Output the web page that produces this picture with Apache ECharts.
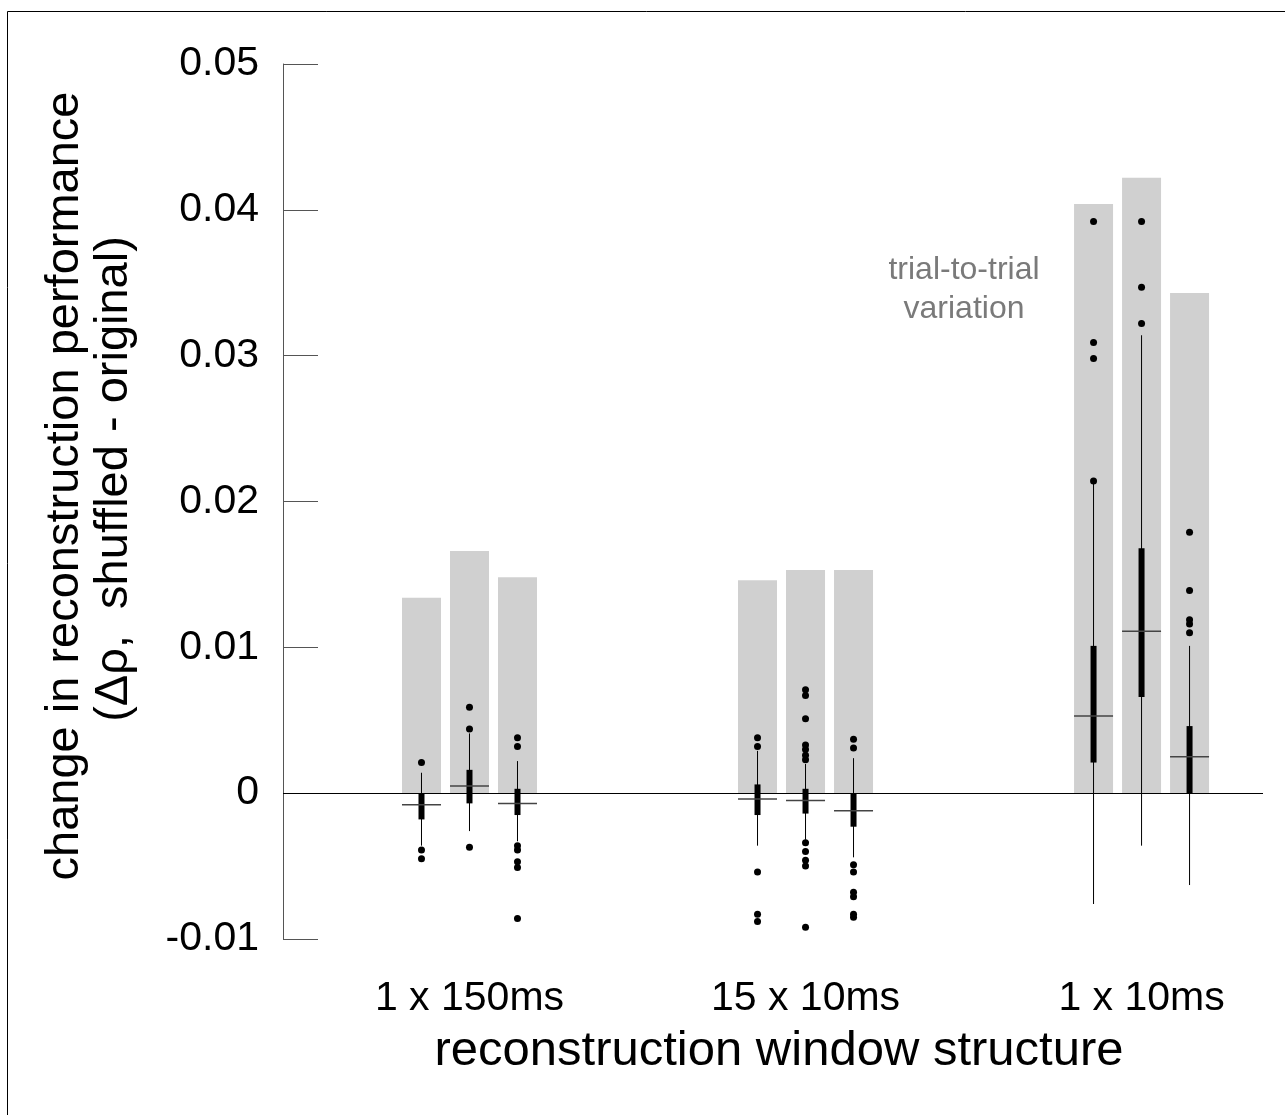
<!DOCTYPE html>
<html>
<head>
<meta charset="utf-8">
<script src="https://cdn.jsdelivr.net/npm/echarts@6/dist/echarts.min.js"></script>
<style>
  html, body { margin: 0; padding: 0; background: #fff; }
  #main { width: 1285px; height: 1115px; }
</style>
</head>
<body>
<div id="main"></div>
<script>
// window structures (x categories), three conditions each
var groups = ['1 x 150ms', '15 x 10ms', '1 x 10ms']

// gray bars: trial-to-trial variation
var trialVariation = [0.0134, 0.0166, 0.0148, 0.0146, 0.0153, 0.0153, 0.0404, 0.0422, 0.0343]

// box plot stats, one entry per box (3 per group)
var whiskerLow = [-0.0036, -0.0026, -0.0033, -0.0036, -0.0032, -0.0044, -0.0076, -0.0036, -0.0063]
var quart1 = [-0.0018, -0.0007, -0.0015, -0.0015, -0.0014, -0.0023, 0.0021, 0.0066, 0.0000]
var median = [-0.0008, 0.0005, -0.0007, -0.0004, -0.0005, -0.0012, 0.0053, 0.0111, 0.0025]
var quart3 = [0.0000, 0.0016, 0.0003, 0.0006, 0.0003, 0.0000, 0.0101, 0.0168, 0.0046]
var whiskerHigh = [0.0014, 0.0041, 0.0022, 0.0029, 0.0020, 0.0024, 0.0212, 0.0314, 0.0101]

var outliers = [
  [0.0021, -0.0039, -0.0045],
  [0.0059, 0.0044, -0.0037],
  [0.0038, 0.0032, -0.0036, -0.0039, -0.0047, -0.0051, -0.0086],
  [0.0038, 0.0032, -0.0054, -0.0083, -0.0088],
  [0.0071, 0.0067, 0.0051, 0.0033, 0.0030, 0.0026, 0.0023, -0.0034, -0.0040, -0.0046, -0.0050, -0.0092],
  [0.0037, 0.0031, -0.0049, -0.0054, -0.0068, -0.0071, -0.0083, -0.0085],
  [0.0392, 0.0309, 0.0298, 0.0214],
  [0.0392, 0.0347, 0.0322],
  [0.0179, 0.0139, 0.0119, 0.0116, 0.0110]
]

var FONT = '"Liberation Sans", Arial, Helvetica, sans-serif'
var GROUP_STEP = 7

// x position of box i: group * 7 + (slot - 1)
function boxX (i) {
  return Math.floor(i / 3) * GROUP_STEP + (i % 3) - 1
}

var barData = trialVariation.map(function (v, i) { return [boxX(i), v] })
var boxData = median.map(function (m, i) {
  return [boxX(i), whiskerLow[i], quart1[i], m, quart3[i], whiskerHigh[i]]
})
var outlierData = []
outliers.forEach(function (list, i) {
  list.forEach(function (v) { outlierData.push([boxX(i), v]) })
})

var chart = echarts.init(document.getElementById('main'))
chart.setOption({
  animation: false,
  backgroundColor: '#fff',
  grid: { left: 283, right: 22, top: 64, bottom: 176 },
  xAxis: {
    type: 'value',
    min: -3.885,
    max: 16.53,
    axisLine: { show: false, onZero: false },
    axisTick: { show: false },
    splitLine: { show: false },
    axisLabel: {
      customValues: [0, 7, 14],
      formatter: function (v) { return groups[Math.round(v / GROUP_STEP)] },
      fontSize: 41,
      fontFamily: FONT,
      color: '#000',
      margin: 39
    }
  },
  yAxis: {
    type: 'value',
    min: -0.01,
    max: 0.05,
    interval: 0.01,
    splitLine: { show: false },
    axisLine: { show: true, onZero: false, lineStyle: { color: '#555', width: 1 } },
    axisTick: { show: true, inside: true, length: 35, lineStyle: { color: '#555', width: 1 } },
    axisLabel: {
      fontSize: 41,
      fontFamily: FONT,
      color: '#000',
      margin: 24,
      formatter: function (v) { return Math.abs(v) < 1e-9 ? '0' : String(+v.toFixed(2)) }
    }
  },
  series: [
    {
      name: 'trial-to-trial variation',
      type: 'custom',
      z: 1,
      data: barData,
      encode: { x: 0, y: 1 },
      renderItem: function (params, api) {
        var top = api.coord([api.value(0), api.value(1)])
        var base = api.coord([api.value(0), 0])
        return {
          type: 'rect',
          shape: { x: top[0] - 19.5, y: top[1], width: 39, height: base[1] - top[1] },
          style: { fill: '#d0d0d0' }
        }
      },
      markLine: {
        silent: true,
        symbol: 'none',
        label: { show: false },
        lineStyle: { color: '#000', width: 1, type: 'solid' },
        data: [{ yAxis: 0 }]
      }
    },
    {
      name: 'box',
      type: 'custom',
      z: 3,
      data: boxData,
      encode: { x: 0, y: [1, 2, 3, 4, 5] },
      renderItem: function (params, api) {
        var x = api.value(0)
        var lo = api.coord([x, api.value(1)])
        var q1 = api.coord([x, api.value(2)])
        var md = api.coord([x, api.value(3)])
        var q3 = api.coord([x, api.value(4)])
        var hi = api.coord([x, api.value(5)])
        return {
          type: 'group',
          children: [
            {
              type: 'line',
              shape: { x1: lo[0], y1: lo[1], x2: hi[0], y2: hi[1] },
              style: { stroke: '#000', lineWidth: 1 }
            },
            {
              type: 'rect',
              shape: { x: q3[0] - 3, y: q3[1], width: 6, height: Math.max(q1[1] - q3[1], 1) },
              style: { fill: '#000' }
            },
            {
              type: 'line',
              shape: { x1: md[0] - 19.5, y1: md[1], x2: md[0] + 19.5, y2: md[1] },
              style: { stroke: '#444', lineWidth: 1.5 }
            }
          ]
        }
      }
    },
    {
      name: 'outliers',
      type: 'scatter',
      z: 4,
      symbol: 'circle',
      symbolSize: 7,
      itemStyle: { color: '#000', opacity: 1 },
      data: outlierData
    }
  ],
  graphic: [
    {
      type: 'polyline',
      silent: true,
      shape: { points: [[7.5, 1115], [7.5, 11.5], [1285, 11.5]] },
      style: { stroke: '#000', lineWidth: 1, fill: null }
    },
    {
      type: 'text',
      x: 65,
      y: 486,
      rotation: Math.PI / 2,
      style: {
        text: 'change in reconstruction performance',
        fontSize: 47,
        fontFamily: FONT,
        fill: '#000',
        textAlign: 'center',
        textVerticalAlign: 'middle'
      }
    },
    {
      type: 'text',
      x: 114,
      y: 479,
      rotation: Math.PI / 2,
      style: {
        text: '(Δρ,  shuffled - original)',
        fontSize: 47,
        fontFamily: FONT,
        fill: '#000',
        textAlign: 'center',
        textVerticalAlign: 'middle'
      }
    },
    {
      type: 'text',
      x: 779,
      y: 1051,
      style: {
        text: 'reconstruction window structure',
        fontSize: 49,
        fontFamily: FONT,
        fill: '#000',
        textAlign: 'center',
        textVerticalAlign: 'middle'
      }
    },
    {
      type: 'text',
      x: 964,
      y: 290,
      style: {
        text: 'trial-to-trial\nvariation',
        fontSize: 32,
        lineHeight: 39,
        fontFamily: FONT,
        fill: '#7a7a7a',
        textAlign: 'center',
        textVerticalAlign: 'middle'
      }
    }
  ]
})
</script>
</body>
</html>
